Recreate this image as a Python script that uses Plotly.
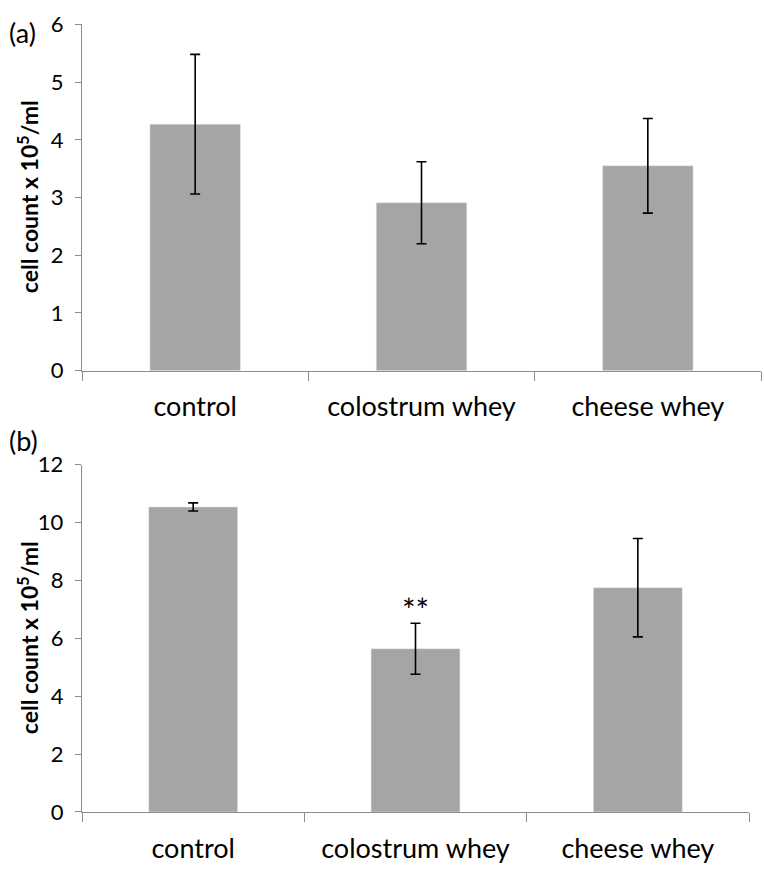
import plotly.graph_objects as go

categories = ["control", "colostrum whey", "cheese whey"]
means_a = [4.27, 2.91, 3.55]
errors_a = [1.21, 0.71, 0.82]
means_b = [10.54, 5.64, 7.75]
errors_b = [0.14, 0.88, 1.70]
yticks_a = [0, 1, 2, 3, 4, 5, 6]
yticks_b = [0, 2, 4, 6, 8, 10, 12]
y_title = "<b>cell count x 10<sup>5</sup>/ml</b>"

W, H = 764, 877
FONT = "Lato"
BAR = "#a5a5a5"
AX = "#8c8c8c"

fig = go.Figure()
fig.add_trace(go.Bar(x=categories, y=means_a, width=0.4, marker_color=BAR,
                     error_y=dict(type="data", array=errors_a, color="black", thickness=1.6, width=5),
                     xaxis="x", yaxis="y", showlegend=False))
fig.add_trace(go.Bar(x=categories, y=means_b, width=0.4, marker_color=BAR,
                     error_y=dict(type="data", array=errors_b, color="black", thickness=1.6, width=5),
                     xaxis="x2", yaxis="y2", showlegend=False))

def px_x(p):
    return p / W

def px_y(p):
    return 1 - p / H

common_x = dict(type="category", showline=True, linecolor=AX, linewidth=1.2,
                ticks="outside", tickson="boundaries", ticklen=9, tickcolor=AX,
                tickfont=dict(family=FONT, size=27, color="black"),
                showgrid=False, zeroline=False, range=[-0.5, 2.5], fixedrange=True,
                ticklabelstandoff=12)
common_y = dict(showline=True, linecolor=AX, linewidth=1.2, ticks="outside",
                ticklen=6, tickcolor=AX, tickfont=dict(family=FONT, size=22, color="black"),
                showgrid=False, zeroline=False, ticklabelstandoff=7, fixedrange=True)

title_font = dict(family=FONT, size=23, color="black")
label_font = dict(family=FONT, size=27, color="black")

fig.update_layout(
    width=W, height=H, margin=dict(l=0, r=0, t=0, b=0),
    plot_bgcolor="white", paper_bgcolor="white", bargap=0.6,
    xaxis=dict(common_x, domain=[px_x(82), px_x(761)], anchor="y"),
    yaxis=dict(common_y, domain=[px_y(368), px_y(10.7)], anchor="x", range=[0, 6],
               tickvals=yticks_a),
    xaxis2=dict(common_x, domain=[px_x(82), px_x(749)], anchor="y2"),
    yaxis2=dict(common_y, domain=[px_y(823.3), px_y(465)], anchor="x2", range=[0, 12],
                tickvals=yticks_b),
    annotations=[
        dict(text="(a)", x=px_x(7), y=px_y(0), xref="paper", yref="paper",
             xanchor="left", yanchor="top", showarrow=False, font=label_font),
        dict(text="(b)", x=px_x(7), y=px_y(421), xref="paper", yref="paper",
             xanchor="left", yanchor="top", showarrow=False, font=label_font),
        dict(text=y_title, x=px_x(28), y=px_y(189), xref="paper", yref="paper",
             xanchor="center", yanchor="middle", textangle=-90, showarrow=False,
             font=title_font),
        dict(text=y_title, x=px_x(28), y=px_y(644), xref="paper", yref="paper",
             xanchor="center", yanchor="middle", textangle=-90, showarrow=False,
             font=title_font),
        dict(text="**", x=categories[1], y=7.0, xref="x2", yref="y2",
             xanchor="center", yanchor="middle", showarrow=False,
             font=dict(family=FONT, size=32, color="black")),
    ],
)

fig.write_html("out.html", config={"displayModeBar": False, "staticPlot": True},
               post_script="document.body.style.margin='0px';document.body.style.overflow='hidden';")
